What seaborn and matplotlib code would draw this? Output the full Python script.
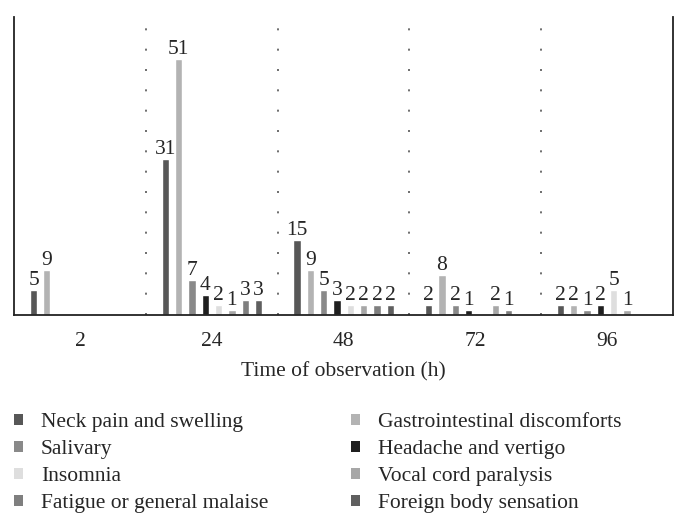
import pandas as pd
import matplotlib
matplotlib.use("Agg")
import matplotlib.pyplot as plt
import seaborn as sns
from matplotlib.patches import Patch

# data
times = ["2", "24", "48", "72", "96"]
symptoms = [
    "Neck pain and swelling",
    "Gastrointestinal discomforts",
    "Salivary",
    "Headache and vertigo",
    "Insomnia",
    "Vocal cord paralysis",
    "Fatigue or general malaise",
    "Foreign body sensation",
]
neck = [5, 31, 15, 2, 2]
gastro = [9, 51, 9, 8, 2]
salivary = [0, 7, 5, 2, 1]
headache = [0, 4, 3, 1, 2]
insomnia = [0, 2, 2, 0, 5]
vocal = [0, 1, 2, 2, 1]
fatigue = [0, 3, 2, 1, 0]
foreign = [0, 3, 2, 0, 0]
series = [neck, gastro, salivary, headache, insomnia, vocal, fatigue, foreign]
colors = ["#575757", "#b3b3b3", "#898989", "#1f1f1f",
          "#dedede", "#a7a7a7", "#7f7f7f", "#5f5f5f"]

rows = []
for s, vals in zip(symptoms, series):
    for t, v in zip(times, vals):
        rows.append({"time": t, "symptom": s, "count": v})
df = pd.DataFrame(rows)

sns.set_style("white")
plt.rcParams["font.family"] = ["Liberation Serif", "DejaVu Serif"]

fig = plt.figure(figsize=(6.88, 5.27), dpi=100)
ax = fig.add_axes([0.021, 0.4023, 0.957, 0.5654])

sns.barplot(data=df, x="time", y="count", hue="symptom", order=times,
            hue_order=symptoms, palette=colors, width=0.81, gap=0.47,
            saturation=1, legend=False, ax=ax)

for cont in ax.containers:
    labels = [f"{int(b.get_height())}" if b.get_height() > 0 else "" for b in cont]
    ax.bar_label(cont, labels=labels, fontsize=15.5, padding=0)

ax.set_xlim(-0.5, 4.5)
ax.set_ylim(0, 59.4)
ax.set_yticks([])
for x in [0.5, 1.5, 2.5, 3.5]:
    ax.axvline(x, color="#555555", linestyle=(0, (1.2, 11)), linewidth=1.2)

ax.tick_params(axis="x", length=0, pad=12, labelsize=15.5)
ax.set_xlabel("Time of observation (h)", fontsize=15.5, labelpad=8)
ax.set_ylabel("")
ax.spines["top"].set_visible(False)
for side in ["left", "right", "bottom"]:
    ax.spines[side].set_color("#222222")
    ax.spines[side].set_linewidth(1.3)

handles = [Patch(facecolor=c, edgecolor="none") for c in colors]
order = [0, 2, 4, 6, 1, 3, 5, 7]
fig.legend([handles[i] for i in order], [symptoms[i] for i in order],
           ncol=2, loc="upper left", bbox_to_anchor=(0.008, 0.233),
           frameon=False, fontsize=15.5, handlelength=0.4, handleheight=0.4,
           handletextpad=0.85, columnspacing=3.85, labelspacing=0.38,
           borderaxespad=0)

fig.savefig("out.png", dpi=100)
